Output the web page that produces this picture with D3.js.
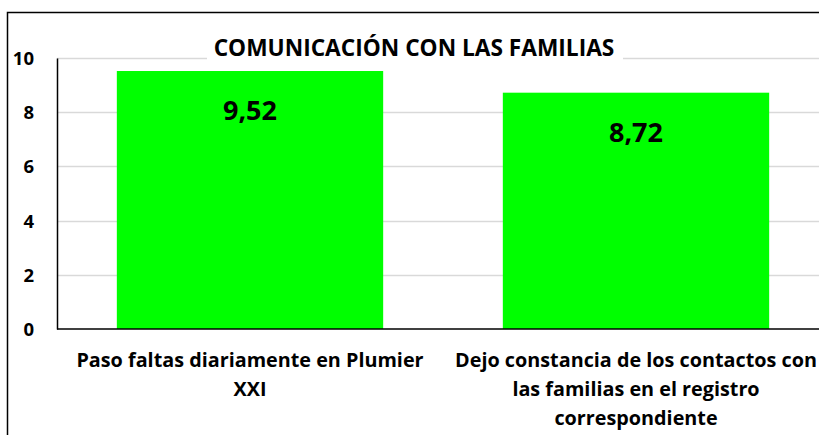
<!DOCTYPE html>
<html>
<head>
<meta charset="utf-8">
<script src="https://cdn.jsdelivr.net/npm/d3@7"></script>
<style>
  body { margin: 0; background: #fff; }
  text { font-family: "Open Sans", sans-serif; font-weight: bold; fill: #000; }
</style>
</head>
<body>
<div id="chart"></div>
<script>
// data
const categories = ["Paso faltas diariamente en Plumier XXI",
                    "Dejo constancia de los contactos con las familias en el registro correspondiente"];
const values = [9.52, 8.72];
const valueLabels = ["9,52", "8,72"];
const categoryLines = [
  ["Paso faltas diariamente en Plumier", "XXI"],
  ["Dejo constancia de los contactos con", "las familias en el registro", "correspondiente"]
];
const yTicks = [0, 2, 4, 6, 8, 10];
const chartTitle = "COMUNICACIÓN CON LAS FAMILIAS";

const W = 819, H = 435;
const margin = {top: 58, right: -10, bottom: 106, left: 57};

const svg = d3.select("#chart").append("svg")
    .attr("width", W)
    .attr("height", H);

// outer frame
svg.append("rect")
    .attr("x", 7.5).attr("y", 12.5)
    .attr("width", W + 20).attr("height", H + 20)
    .attr("fill", "none")
    .attr("stroke", "#000")
    .attr("stroke-width", 1.5);

const x = d3.scaleBand()
    .domain(categories)
    .range([margin.left, W - margin.right])
    .paddingInner(0.31)
    .paddingOuter(0.155);

const y = d3.scaleLinear()
    .domain([0, 10])
    .range([H - margin.bottom, margin.top]);

// gridlines
svg.append("g")
  .selectAll("line")
  .data(yTicks.filter(d => d > 0))
  .join("line")
    .attr("x1", margin.left).attr("x2", W)
    .attr("y1", d => Math.round(y(d)) + 0.5)
    .attr("y2", d => Math.round(y(d)) + 0.5)
    .attr("stroke", "#d9d9d9")
    .attr("stroke-width", 1.5);

// title with white box over the top gridline
const title = svg.append("g");
title.append("rect")
    .attr("x", 207).attr("y", 30)
    .attr("width", 416).attr("height", 34)
    .attr("fill", "#fff");
title.append("text")
    .attr("x", 414).attr("y", 56)
    .attr("text-anchor", "middle")
    .style("font-size", "22.7px")
    .text(chartTitle);

// bars
svg.append("g")
  .selectAll("rect")
  .data(values)
  .join("rect")
    .attr("x", (d, i) => x(categories[i]))
    .attr("y", d => y(d))
    .attr("width", x.bandwidth())
    .attr("height", d => y(0) - y(d))
    .attr("fill", "#00ff00");

// value labels
svg.append("g")
  .selectAll("text")
  .data(values)
  .join("text")
    .attr("x", (d, i) => x(categories[i]) + x.bandwidth() / 2)
    .attr("y", d => y(d) + 49)
    .attr("text-anchor", "middle")
    .style("font-size", "27px")
    .text((d, i) => valueLabels[i]);

// y axis
const yAxis = svg.append("g")
    .attr("transform", `translate(${margin.left},0)`)
    .call(d3.axisLeft(y).tickValues(yTicks).tickSize(0).tickPadding(23).tickFormat(d3.format("d")));
yAxis.select(".domain").attr("stroke", "#000").attr("stroke-width", 1.5);
yAxis.selectAll("text")
    .style("font-size", "18.5px")
    .attr("dy", "0.35em");

// x axis
svg.append("line")
    .attr("x1", margin.left).attr("x2", W)
    .attr("y1", y(0)).attr("y2", y(0))
    .attr("stroke", "#000")
    .attr("stroke-width", 1.5);

// category labels
svg.append("g")
  .selectAll("text")
  .data(categoryLines)
  .join("text")
    .attr("text-anchor", "middle")
    .style("font-size", "19.8px")
    .attr("transform", (d, i) => `translate(${x(categories[i]) + x.bandwidth() / 2},${y(0) + 38})`)
  .selectAll("tspan")
  .data(d => d)
  .join("tspan")
    .attr("x", 0)
    .attr("y", (d, j) => j * 29)
    .text(d => d);
</script>
</body>
</html>
